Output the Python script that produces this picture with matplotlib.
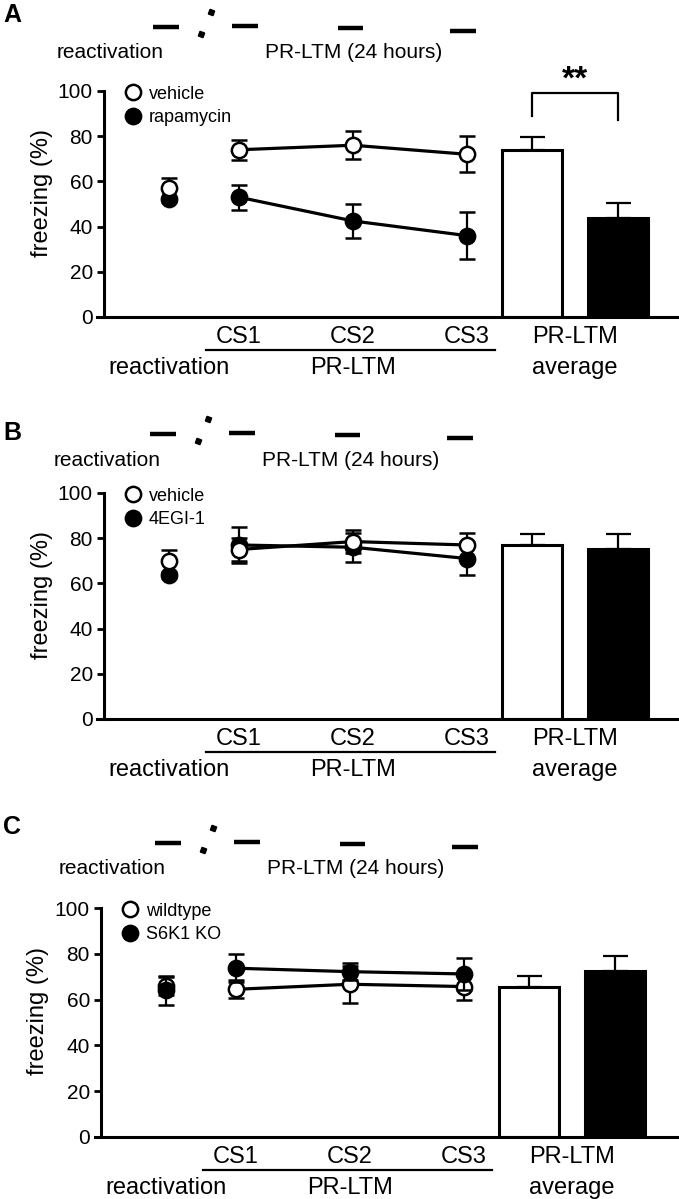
import matplotlib
matplotlib.use('Agg')
import matplotlib.pyplot as plt
from matplotlib.lines import Line2D

plt.rcParams['font.family'] = ['Liberation Sans', 'DejaVu Sans']

# ---- dados ----
panel_letters = ['A', 'B', 'C']
group_names = [('vehicle', 'rapamycin'), ('vehicle', '4EGI-1'), ('wildtype', 'S6K1 KO')]
session_labels = ['CS1', 'CS2', 'CS3']

ctrl_mean = [[57, 74, 76, 72], [70, 75, 78.5, 77], [66, 64.5, 66.7, 65.7]]
ctrl_err = [[4.5, 4.5, 6.3, 7.9], [5, 5.2, 5, 5.2], [4, 4, 8, 6]]
drug_mean = [[52, 53, 42.5, 36], [63.5, 77, 76, 71], [64, 73.7, 72.2, 71.2]]
drug_err = [[1, 5.5, 7.5, 10.5], [1, 8, 6.5, 7.5], [6.5, 6, 3.7, 7]]

avg_ctrl = [74, 77, 65.7]
avg_ctrl_err = [5.7, 4.9, 4.8]
avg_drug = [44, 75.2, 72.7]
avg_drug_err = [6.5, 6.5, 6.5]

yticks = [0, 20, 40, 60, 80, 100]

# ---- layout (pixels da figura original) ----
W, H = 679, 1199
x_react, x_cs, x_bars = 0.386, [1, 2, 3], [3.57, 4.325]
bar_w = 0.52
px_unit = 114.0
x_left = -0.241
x_spine = -0.184

# (topo do eixo, base do eixo, deslocamento x) por painel
axes_px = [(91, 317, 0), (493, 719, 0), (908, 1137, -3)]
# deslocamento da linha do tempo por painel e posição y da letra
tl_offset = [(0, 0), (-3, 407), (2, 816)]
letter_y = [15, 433, 827]
ctrl_on_top = [True, True, False]

fig = plt.figure(figsize=(W / 100, H / 100), dpi=100)


def fx(px):
    return px / W


def fy(py):
    return 1 - py / H


def timeline(dx, dy, letter, ly):
    dashes = [(153, 179, 27), (232, 258, 26), (338, 363, 28), (450, 476, 31)]
    for x0, x1, y in dashes:
        fig.add_artist(Line2D([fx(x0 + dx), fx(x1 + dx)], [fy(y + dy), fy(y + dy)],
                              color='black', lw=3.2, solid_capstyle='butt'))
    for x, y in [(211, 12), (201, 34)]:
        fig.add_artist(Line2D([fx(x + dx)], [fy(y + dy)], marker=(4, 0, 25), ms=5,
                              color='black', ls='none'))
    fig.text(fx(110 + dx), fy(53 + dy), 'reactivation', fontsize=15,
             ha='center', va='center')
    fig.text(fx(354 + dx), fy(53 + dy), 'PR-LTM (24 hours)', fontsize=15,
             ha='center', va='center')
    fig.text(fx(12), fy(ly), letter, fontsize=18, fontweight='bold',
             ha='center', va='center')


for i in range(3):
    top, bot, dx = axes_px[i]
    left_px = 97.5 + dx
    width_px = 679 - left_px
    ax = fig.add_axes([fx(left_px), fy(bot), width_px / W, (bot - top) / H])
    ax.set_xlim(x_left, x_left + width_px / px_unit)
    ax.set_ylim(0, 100)
    pxu = (bot - top) / 100.0

    timeline(tl_offset[i][0], tl_offset[i][1], panel_letters[i], letter_y[i])

    styles = [
        dict(mean=ctrl_mean[i], err=ctrl_err[i], mfc='white', z=4 if ctrl_on_top[i] else 3),
        dict(mean=drug_mean[i], err=drug_err[i], mfc='black', z=3 if ctrl_on_top[i] else 4),
    ]
    for s in styles:
        kw = dict(color='black', mfc=s['mfc'], mec='black', ms=11, mew=1.8,
                  capsize=6, elinewidth=1.6, capthick=1.6, zorder=s['z'])
        ax.errorbar([x_react], [s['mean'][0]], yerr=[s['err'][0]], fmt='o', **kw)
        ax.errorbar(x_cs, s['mean'][1:], yerr=s['err'][1:], fmt='-o', lw=2.3, **kw)

    # barras da média PR-LTM
    ax.bar([x_bars[0]], [avg_ctrl[i]], width=bar_w, color='white',
           edgecolor='black', lw=2.2, zorder=2)
    ax.bar([x_bars[1]], [avg_drug[i]], width=bar_w, color='black',
           edgecolor='black', lw=2.2, zorder=2)
    ax.errorbar(x_bars, [avg_ctrl[i], avg_drug[i]],
                yerr=[[0, 0], [avg_ctrl_err[i], avg_drug_err[i]]], fmt='none',
                ecolor='black', elinewidth=1.6, capsize=9, capthick=1.6, zorder=1)

    # eixos
    for sp in ['top', 'right']:
        ax.spines[sp].set_visible(False)
    ax.spines['left'].set_position(('data', x_spine))
    ax.spines['left'].set_bounds(0, 100)
    ax.spines['left'].set_linewidth(2.2)
    ax.spines['bottom'].set_linewidth(2.2)
    ax.set_xticks([])
    ax.set_yticks(yticks)
    ax.tick_params(axis='y', length=5, width=2, pad=3, labelsize=15)
    ax.set_ylabel('freezing (%)', fontsize=17)
    ax.yaxis.set_label_coords(-0.077, 0.55)

    # legenda
    handles = [Line2D([], [], marker='o', ls='none', mfc='white', mec='black', ms=11, mew=1.8),
               Line2D([], [], marker='o', ls='none', mfc='black', mec='black', ms=11, mew=1.8)]
    ax.legend(handles, group_names[i], loc='upper left', bbox_to_anchor=(0.045, 1.023),
              frameon=False, fontsize=13, handlelength=1.0, handletextpad=0.4,
              labelspacing=0.35, borderpad=0, borderaxespad=0)

    # rótulos abaixo do eixo
    y1, y_line, y2 = -20 / pxu, -33 / pxu, -51 / pxu
    for x, lab in zip(x_cs, session_labels):
        ax.text(x, y1, lab, fontsize=17, ha='center', va='center', clip_on=False)
    ax.plot([0.71, 3.245], [y_line, y_line], color='black', lw=1.6, clip_on=False)
    ax.text(x_react, y2, 'reactivation', fontsize=17, ha='center', va='center')
    ax.text(2, y2, 'PR-LTM', fontsize=17, ha='center', va='center')
    mid = (x_bars[0] + x_bars[1]) / 2
    ax.text(mid, y1, 'PR-LTM', fontsize=17, ha='center', va='center')
    ax.text(mid, y2, 'average', fontsize=17, ha='center', va='center')

    if i == 0:
        ax.plot([x_bars[0], x_bars[0], x_bars[1], x_bars[1]], [89, 99, 99, 87],
                color='black', lw=1.6, clip_on=False)
        ax.text(mid, 105, '**', fontsize=24, fontweight='bold', ha='center',
                va='center', clip_on=False)

fig.savefig('out.png', dpi=100)
